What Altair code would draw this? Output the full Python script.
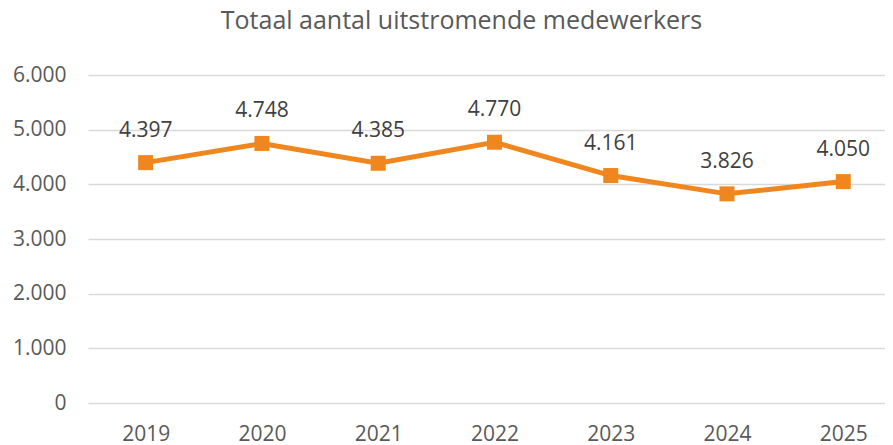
import altair as alt
import pandas as pd

years = [2019, 2020, 2021, 2022, 2023, 2024, 2025]
values = [4397, 4748, 4385, 4770, 4161, 3826, 4050]
title_text = "Totaal aantal uitstromende medewerkers"

df = pd.DataFrame({"jaar": years, "aantal": values})
df["label"] = [f"{v:,}".replace(",", ".") for v in values]

FONT = "Open Sans"
ORANGE = "#F0861E"

x = alt.X("jaar:Q",
          scale=alt.Scale(domain=[2018.504, 2025.359], nice=False, zero=False),
          axis=alt.Axis(values=years, format="d", grid=False, domain=False, ticks=False,
                        labelPadding=20, labelFontSize=21, labelColor="#595959",
                        labelFont=FONT, title=None, labelFlush=False))
y = alt.Y("aantal:Q",
          scale=alt.Scale(domain=[0, 6000], nice=False),
          axis=alt.Axis(values=[0, 1000, 2000, 3000, 4000, 5000, 6000],
                        labelExpr="replace(format(datum.value, ','), ',', '.')",
                        grid=True, gridColor="#D9D9D9", gridWidth=1.5,
                        domain=False, ticks=False, labelPadding=22,
                        labelFontSize=21, labelColor="#595959", labelFont=FONT,
                        title=None))

base = alt.Chart(df).encode(x=x, y=y)
line = base.mark_line(color=ORANGE, strokeWidth=5)
pts = base.mark_square(color=ORANGE, size=225, opacity=1)
txt = base.mark_text(dy=-32, fontSize=21, color="#404040", font=FONT).encode(text="label:N")

chart = (line + pts + txt).properties(
    width=797, height=328,
    title=alt.TitleParams(title_text, fontSize=25, font=FONT, color="#595959",
                          fontWeight="normal", anchor="middle", dx=-25,
                          offset=30),
    padding={"left": 4, "top": 1, "right": 0, "bottom": 0},
).configure_view(stroke=None)

chart.save("out.html", embed_options={"renderer": "svg", "actions": False})
